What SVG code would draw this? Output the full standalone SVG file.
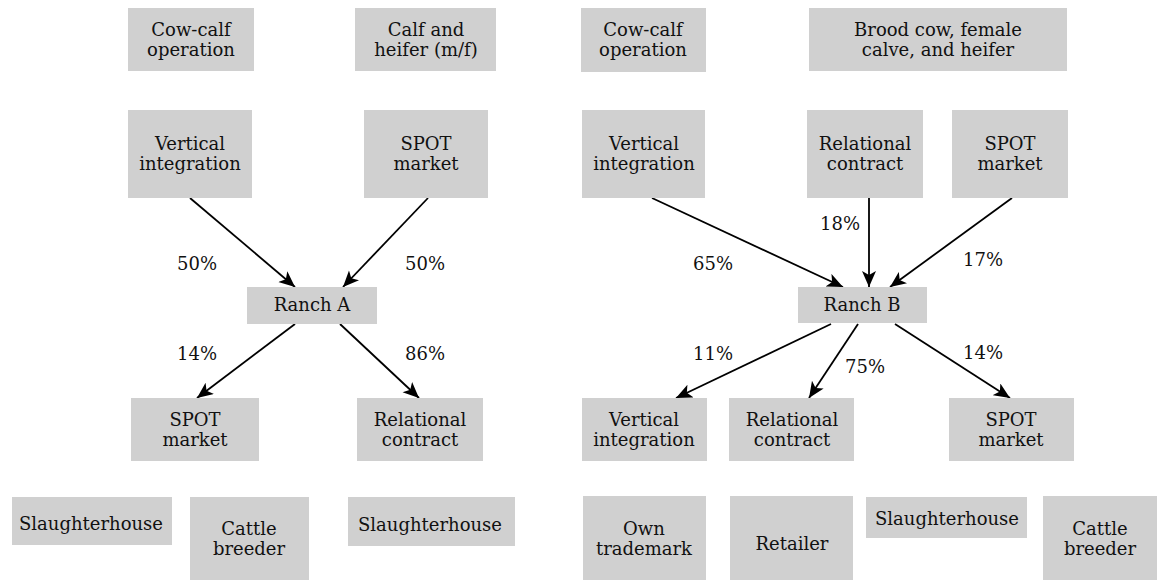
<svg xmlns="http://www.w3.org/2000/svg" width="1157" height="581" viewBox="0 0 1157 581">
<style>
.box{fill:#d0d0d0}
.t{font-family:"DejaVu Serif","Liberation Serif",serif;font-size:18px;fill:#111;text-anchor:middle}
.c{stroke:#000;stroke-width:1.8;fill:none;marker-end:url(#ah)}
</style>
<defs>
<marker id="ah" markerUnits="userSpaceOnUse" markerWidth="17" markerHeight="15" refX="16" refY="7" orient="auto">
<path d="M0,0 L16,7 L0,14 L4,7 z" fill="#000"/>
</marker>
</defs>
<rect width="1157" height="581" fill="#fff"/>
<g id="connectors">
<line class="c" x1="190" y1="198" x2="295" y2="287"/>
<line class="c" x1="428" y1="198" x2="343" y2="287"/>
<line class="c" x1="295" y1="324" x2="197" y2="398"/>
<line class="c" x1="340" y1="324" x2="419" y2="398"/>
<line class="c" x1="652" y1="198" x2="843" y2="287"/>
<line class="c" x1="869" y1="198" x2="869" y2="287"/>
<line class="c" x1="1012" y1="198" x2="890" y2="287"/>
<line class="c" x1="831" y1="324" x2="676" y2="398"/>
<line class="c" x1="858" y1="324" x2="809" y2="398"/>
<line class="c" x1="895" y1="324" x2="1010" y2="398"/>
</g>
<g id="labels" class="t">
<text x="197" y="269.5">50%</text>
<text x="425" y="269.5">50%</text>
<text x="197" y="359.5">14%</text>
<text x="425" y="359.5">86%</text>
<text x="840" y="229.5">18%</text>
<text x="713" y="269.5">65%</text>
<text x="983" y="265.5">17%</text>
<text x="713" y="359.5">11%</text>
<text x="865" y="372.5">75%</text>
<text x="983" y="358.5">14%</text>
</g>
<g id="n1"><rect class="box" x="128" y="8" width="126" height="63"/><text class="t" x="191"><tspan x="191" y="36">Cow-calf</tspan><tspan x="191" y="55.5">operation</tspan></text></g>
<g id="n2"><rect class="box" x="355" y="8" width="141" height="63"/><text class="t" x="426"><tspan x="426" y="36">Calf and</tspan><tspan x="426" y="55.5">heifer (m/f)</tspan></text></g>
<g id="n3"><rect class="box" x="128" y="110" width="124" height="88"/><text class="t" x="190"><tspan x="190" y="149.5">Vertical</tspan><tspan x="190" y="169.5">integration</tspan></text></g>
<g id="n4"><rect class="box" x="364" y="110" width="124" height="88"/><text class="t" x="426"><tspan x="426" y="149.5">SPOT</tspan><tspan x="426" y="169.5">market</tspan></text></g>
<g id="n5"><rect class="box" x="247" y="287" width="130" height="37"/><text class="t" x="312" y="310.5">Ranch A</text></g>
<g id="n6"><rect class="box" x="131" y="398" width="128" height="63"/><text class="t" x="195"><tspan x="195" y="426">SPOT</tspan><tspan x="195" y="445.5">market</tspan></text></g>
<g id="n7"><rect class="box" x="357" y="398" width="126" height="63"/><text class="t" x="420"><tspan x="420" y="426">Relational</tspan><tspan x="420" y="445.5">contract</tspan></text></g>
<g id="n8"><rect class="box" x="12" y="497" width="160" height="48"/><text class="t" x="91" y="529.5">Slaughterhouse</text></g>
<g id="n9"><rect class="box" x="190" y="497" width="119" height="83"/><text class="t" x="249"><tspan x="249" y="535">Cattle</tspan><tspan x="249" y="554.5">breeder</tspan></text></g>
<g id="n10"><rect class="box" x="348" y="497" width="167" height="49"/><text class="t" x="430" y="530.5">Slaughterhouse</text></g>
<g id="m1"><rect class="box" x="581" y="8" width="125" height="64"/><text class="t" x="643"><tspan x="643" y="36">Cow-calf</tspan><tspan x="643" y="55.5">operation</tspan></text></g>
<g id="m2"><rect class="box" x="809" y="8" width="258" height="63"/><text class="t" x="938"><tspan x="938" y="36">Brood cow, female</tspan><tspan x="938" y="55.5">calve, and heifer</tspan></text></g>
<g id="m3"><rect class="box" x="582" y="110" width="123" height="88"/><text class="t" x="644"><tspan x="644" y="149.5">Vertical</tspan><tspan x="644" y="169.5">integration</tspan></text></g>
<g id="m4"><rect class="box" x="807" y="110" width="116" height="88"/><text class="t" x="865"><tspan x="865" y="149.5">Relational</tspan><tspan x="865" y="169.5">contract</tspan></text></g>
<g id="m5"><rect class="box" x="952" y="110" width="116" height="88"/><text class="t" x="1010"><tspan x="1010" y="149.5">SPOT</tspan><tspan x="1010" y="169.5">market</tspan></text></g>
<g id="m6"><rect class="box" x="798" y="287" width="129" height="36"/><text class="t" x="862" y="310.5">Ranch B</text></g>
<g id="m7"><rect class="box" x="582" y="398" width="125" height="63"/><text class="t" x="644"><tspan x="644" y="426">Vertical</tspan><tspan x="644" y="445.5">integration</tspan></text></g>
<g id="m8"><rect class="box" x="729" y="398" width="125" height="63"/><text class="t" x="792"><tspan x="792" y="426">Relational</tspan><tspan x="792" y="445.5">contract</tspan></text></g>
<g id="m9"><rect class="box" x="949" y="398" width="125" height="63"/><text class="t" x="1011"><tspan x="1011" y="426">SPOT</tspan><tspan x="1011" y="445.5">market</tspan></text></g>
<g id="m10"><rect class="box" x="583" y="496" width="123" height="84"/><text class="t" x="644"><tspan x="644" y="535">Own</tspan><tspan x="644" y="554.5">trademark</tspan></text></g>
<g id="m11"><rect class="box" x="730" y="496" width="123" height="84"/><text class="t" x="792" y="549.5">Retailer</text></g>
<g id="m12"><rect class="box" x="866" y="497" width="161" height="41"/><text class="t" x="947" y="524.5">Slaughterhouse</text></g>
<g id="m13"><rect class="box" x="1043" y="496" width="114" height="84"/><text class="t" x="1100"><tspan x="1100" y="535">Cattle</tspan><tspan x="1100" y="554.5">breeder</tspan></text></g>
</svg>
